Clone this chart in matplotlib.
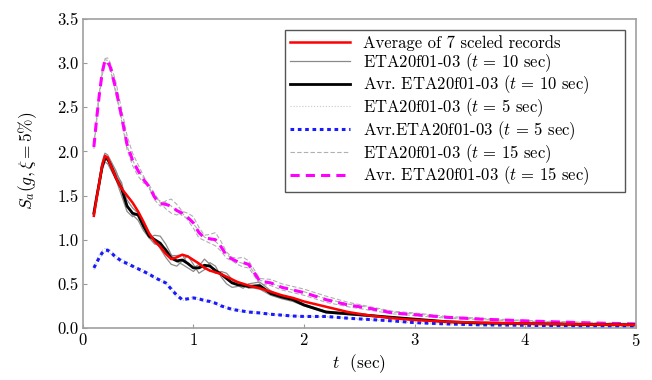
import matplotlib
matplotlib.use("Agg")
import matplotlib.pyplot as plt

plt.rcParams['font.family'] = 'serif'
plt.rcParams['font.serif'] = ['cmr10', 'DejaVu Serif']
plt.rcParams['mathtext.fontset'] = 'cm'
plt.rcParams['axes.formatter.use_mathtext'] = True

# periods (sec)
t = [0.1, 0.125, 0.15, 0.175, 0.2, 0.225, 0.25, 0.3, 0.35, 0.4, 0.45, 0.5, 0.55, 0.6, 0.65, 0.7, 0.75,
     0.8, 0.85, 0.9, 0.95, 1.0, 1.05, 1.1, 1.15, 1.2, 1.25, 1.3, 1.35, 1.4, 1.45,
     1.5, 1.6, 1.7, 1.8, 1.9, 2.0, 2.2, 2.4, 2.6, 2.8, 3.0, 3.3, 3.6, 4.0, 4.5, 5.0]

# average of 7 scaled records
avg7 = [1.27, 1.47, 1.65, 1.84, 1.95, 1.93, 1.85, 1.70, 1.58, 1.50, 1.42, 1.32, 1.20, 1.07, 0.98, 0.92, 0.84,
        0.78, 0.80, 0.83, 0.81, 0.77, 0.73, 0.68, 0.65, 0.63, 0.61, 0.58, 0.55, 0.52, 0.50,
        0.48, 0.45, 0.41, 0.37, 0.34, 0.30, 0.24, 0.18, 0.14, 0.11, 0.09, 0.07, 0.06, 0.05, 0.04, 0.035]

# t = 10 sec records and average
t10_a = [1.28, 1.50, 1.70, 1.88, 1.98, 1.96, 1.90, 1.78, 1.62, 1.45, 1.36, 1.30, 1.20, 1.08, 1.00, 0.90, 0.80,
         0.72, 0.70, 0.76, 0.82, 0.72, 0.62, 0.66, 0.74, 0.70, 0.58, 0.50, 0.46, 0.47, 0.50,
         0.46, 0.44, 0.37, 0.33, 0.30, 0.25, 0.17, 0.15, 0.13, 0.11, 0.09, 0.07, 0.055, 0.05, 0.04, 0.035]
t10_b = [1.30, 1.46, 1.62, 1.80, 1.90, 1.92, 1.88, 1.75, 1.65, 1.40, 1.28, 1.22, 1.10, 1.02, 1.05, 1.04, 0.95,
         0.83, 0.75, 0.72, 0.68, 0.64, 0.70, 0.78, 0.72, 0.62, 0.64, 0.62, 0.55, 0.48, 0.45,
         0.50, 0.52, 0.42, 0.36, 0.33, 0.27, 0.19, 0.17, 0.15, 0.12, 0.10, 0.075, 0.06, 0.05, 0.04, 0.035]
t10_c = [1.32, 1.48, 1.63, 1.79, 1.88, 1.86, 1.80, 1.68, 1.50, 1.32, 1.26, 1.30, 1.16, 1.02, 0.95, 0.94, 0.90,
         0.82, 0.82, 0.83, 0.72, 0.68, 0.72, 0.69, 0.64, 0.64, 0.62, 0.56, 0.52, 0.52, 0.49,
         0.45, 0.47, 0.38, 0.35, 0.32, 0.26, 0.18, 0.16, 0.14, 0.12, 0.10, 0.07, 0.055, 0.05, 0.04, 0.035]
avg10 = [1.30, 1.48, 1.65, 1.83, 1.92, 1.91, 1.85, 1.70, 1.58, 1.38, 1.30, 1.28, 1.15, 1.04, 1.00, 0.96, 0.88,
         0.79, 0.76, 0.77, 0.73, 0.68, 0.68, 0.71, 0.70, 0.65, 0.61, 0.56, 0.51, 0.49, 0.48,
         0.47, 0.48, 0.39, 0.35, 0.32, 0.26, 0.18, 0.16, 0.14, 0.12, 0.10, 0.07, 0.055, 0.05, 0.04, 0.035]

# t = 5 sec records and average
t5_a = [0.70, 0.77, 0.83, 0.88, 0.90, 0.90, 0.88, 0.82, 0.78, 0.75, 0.71, 0.68, 0.66, 0.62, 0.58, 0.55, 0.52,
        0.46, 0.39, 0.33, 0.34, 0.35, 0.34, 0.32, 0.31, 0.29, 0.26, 0.24, 0.22, 0.21, 0.20,
        0.19, 0.18, 0.16, 0.15, 0.14, 0.135, 0.13, 0.115, 0.10, 0.085, 0.065, 0.05, 0.04, 0.03, 0.02, 0.015]
t5_b = [0.66, 0.72, 0.78, 0.83, 0.86, 0.86, 0.84, 0.78, 0.74, 0.71, 0.69, 0.66, 0.62, 0.60, 0.56, 0.53, 0.50,
        0.42, 0.35, 0.31, 0.32, 0.33, 0.32, 0.30, 0.29, 0.27, 0.24, 0.22, 0.20, 0.19, 0.18,
        0.17, 0.16, 0.15, 0.14, 0.13, 0.125, 0.125, 0.105, 0.09, 0.075, 0.055, 0.04, 0.03, 0.03, 0.02, 0.015]
avg5 = [0.68, 0.74, 0.80, 0.85, 0.88, 0.88, 0.86, 0.80, 0.76, 0.73, 0.70, 0.67, 0.64, 0.61, 0.57, 0.54, 0.51,
        0.44, 0.37, 0.32, 0.33, 0.34, 0.33, 0.31, 0.30, 0.28, 0.25, 0.23, 0.21, 0.20, 0.19,
        0.18, 0.17, 0.155, 0.145, 0.135, 0.13, 0.13, 0.11, 0.095, 0.08, 0.06, 0.045, 0.035, 0.03, 0.02, 0.015]

# t = 15 sec records and average
t15_a = [2.07, 2.40, 2.68, 2.92, 3.05, 3.06, 3.00, 2.78, 2.48, 2.18, 1.98, 1.85, 1.72, 1.60, 1.45, 1.38, 1.44,
         1.46, 1.40, 1.32, 1.30, 1.26, 1.14, 1.05, 1.06, 1.08, 0.98, 0.86, 0.80, 0.79, 0.80,
         0.76, 0.56, 0.55, 0.50, 0.47, 0.44, 0.36, 0.29, 0.24, 0.19, 0.17, 0.13, 0.11, 0.085, 0.065, 0.05]
t15_b = [2.03, 2.34, 2.62, 2.86, 3.00, 2.99, 2.92, 2.65, 2.35, 2.02, 1.84, 1.72, 1.64, 1.62, 1.52, 1.42, 1.35,
         1.30, 1.28, 1.30, 1.22, 1.13, 1.02, 0.99, 0.96, 0.93, 0.87, 0.79, 0.76, 0.72, 0.69,
         0.68, 0.50, 0.48, 0.43, 0.40, 0.37, 0.29, 0.24, 0.20, 0.16, 0.14, 0.11, 0.095, 0.075, 0.055, 0.04]
t15_c = [2.05, 2.38, 2.66, 2.90, 3.04, 3.03, 2.95, 2.68, 2.38, 2.06, 1.90, 1.78, 1.70, 1.58, 1.47, 1.44, 1.42,
         1.38, 1.32, 1.27, 1.24, 1.18, 1.10, 1.03, 1.00, 0.98, 0.92, 0.83, 0.79, 0.75, 0.73,
         0.71, 0.54, 0.51, 0.46, 0.43, 0.41, 0.33, 0.27, 0.23, 0.18, 0.16, 0.12, 0.10, 0.08, 0.06, 0.045]
avg15 = [2.05, 2.37, 2.65, 2.89, 3.03, 3.02, 2.95, 2.70, 2.40, 2.08, 1.90, 1.78, 1.68, 1.60, 1.48, 1.41, 1.40,
         1.38, 1.33, 1.30, 1.25, 1.19, 1.08, 1.02, 1.01, 1.00, 0.92, 0.82, 0.78, 0.75, 0.74,
         0.72, 0.53, 0.51, 0.46, 0.43, 0.40, 0.32, 0.26, 0.22, 0.17, 0.15, 0.12, 0.10, 0.08, 0.06, 0.045]

labels = ['Average of 7 sceled records',
          r'ETA20f01-03 ($t\,=\,10$ sec)',
          r'Avr. ETA20f01-03 ($t\,=\,10$ sec)',
          r'ETA20f01-03 ($t\,=\,5$ sec)',
          r'Avr.ETA20f01-03 ($t\,=\,5$ sec)',
          r'ETA20f01-03 ($t\,=\,15$ sec)',
          r'Avr. ETA20f01-03 ($t\,=\,15$ sec)']


def main():
    fig = plt.figure(figsize=(6.52, 3.80), dpi=100)
    ax = fig.add_axes([0.127, 0.137, 0.848, 0.813])

    # individual records first, averages on top
    for i, rec in enumerate([t5_a, t5_b]):
        ax.plot(t, rec, color='#c8c8c8', lw=0.8, ls=':', label=labels[3] if i == 0 else None)
    for i, rec in enumerate([t15_a, t15_b, t15_c]):
        ax.plot(t, rec, color='#b0b0b0', lw=0.8, ls=(0, (4, 2)), label=labels[5] if i == 0 else None)
    for i, rec in enumerate([t10_a, t10_b, t10_c]):
        ax.plot(t, rec, color='#8a8a8a', lw=0.9, label=labels[1] if i == 0 else None)

    ax.plot(t, avg5, color='#1a1aff', lw=2.2, ls=(0, (1.2, 1.2)), label=labels[4])
    ax.plot(t, avg15, color='#ff00ff', lw=2.2, ls=(0, (3, 2)), label=labels[6])
    ax.plot(t, avg10, color='black', lw=2.0, label=labels[2])
    ax.plot(t, avg7, color='red', lw=1.8, label=labels[0])

    ax.set_xlim(0, 5)
    ax.set_ylim(0, 3.5)
    ax.set_xticks([0, 1, 2, 3, 4, 5])
    ax.set_yticks([0, 0.5, 1.0, 1.5, 2.0, 2.5, 3.0, 3.5])
    ax.set_yticklabels(['0.0', '0.5', '1.0', '1.5', '2.0', '2.5', '3.0', '3.5'])
    ax.tick_params(direction='in', length=3, color='#999999', labelsize=12, pad=3)
    for s in ax.spines.values():
        s.set_color('#a0a0a0')
        s.set_linewidth(1.2)

    ax.set_xlabel('$t$  (sec)', fontsize=12.5, labelpad=2)
    ax.set_ylabel(r'$S_a(g, \xi = 5\%)$', fontsize=12.5)
    ax.yaxis.set_label_coords(-0.08, 0.54)

    handles, labs = ax.get_legend_handles_labels()
    order = [labs.index(l) for l in labels]
    leg = ax.legend([handles[i] for i in order], [labs[i] for i in order],
                    loc='upper left', bbox_to_anchor=(0.365, 0.964, 0.615, 0), mode='expand',
                    borderaxespad=0, fontsize=12, handlelength=3.6, handletextpad=0.8,
                    labelspacing=0.0, borderpad=0.3, fancybox=False, framealpha=1,
                    edgecolor='#555555')
    leg.get_frame().set_linewidth(1.0)

    fig.savefig('out.png', dpi=100)


if __name__ == '__main__':
    main()
